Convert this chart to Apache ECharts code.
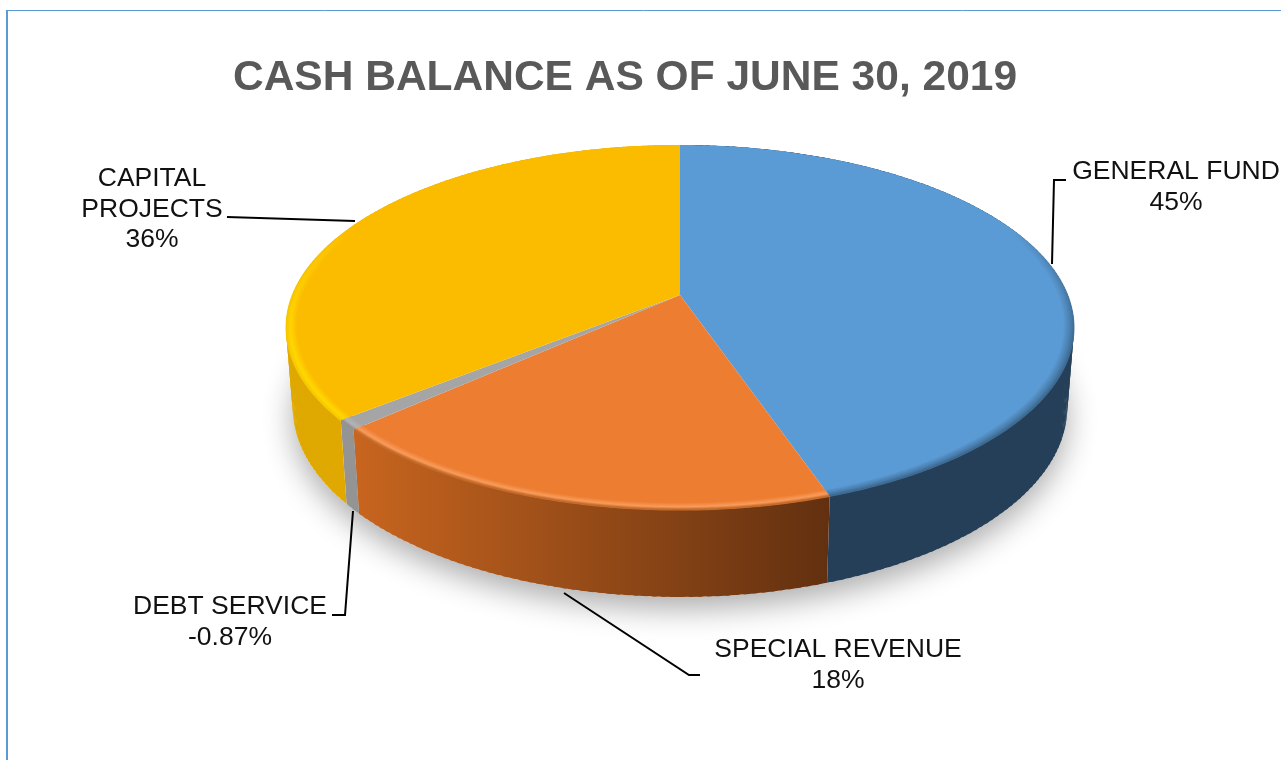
<!DOCTYPE html>
<html>
<head>
<meta charset="utf-8">
<style>
  html,body{margin:0;padding:0;background:#fff;}
  #chart{width:1281px;height:760px;}
</style>
<script src="https://cdn.jsdelivr.net/npm/echarts@6/dist/echarts.min.js"></script>
</head>
<body>
<div id="chart"></div>
<script>
const chartTitle = 'CASH BALANCE AS OF JUNE 30, 2019'
const categories = ['GENERAL FUND', 'SPECIAL REVENUE', 'DEBT SERVICE', 'CAPITAL PROJECTS']
const values = [44.8, 18.49, -0.87, 35.84]
const pctLabels = ['45%', '18%', '-0.87%', '36%']

const topColors = ['#5b9bd5', '#ed7d31', '#a5a5a5', '#fbbc00']
const edgeColors = ['#3d6a92', '#c66a2a', '#929292', '#f7c800']
const glowColors = ['#4a7fae', '#f99c5c', '#b4b4b4', '#ffd800']
const sideColors = [['#243f57', '#243f57'], ['#c8651f', '#623010'], ['#949494', '#949494'], ['#dfa800', '#e6ae00']]

// where each label goes + its leader line
const labelBoxes = [
  { x: 1176, y: 172 },
  { x: 838, y: 650 },
  { x: 230, y: 607 },
  { x: 152, y: 179 }
]
const leaders = [
  [[1066, 180], [1054, 180], [1052, 264]],
  [[700, 675], [689, 675], [564, 593]],
  [[332, 615], [345, 615], [353, 511]],
  [[227, 217], [355, 221]]
]

// perspective disc: apex is not the middle of the ellipse
const apexX = 680, apexY = 295
const scaleX = 387.7, scaleY = 176.7, persp = 0.178

function rimPoint(theta, t) {
  const u = t * Math.sin(theta), v = t * Math.cos(theta)
  const d = 1 + persp * v
  return [apexX + scaleX * u / d, apexY - scaleY * v / d]
}
function lowPoint(theta) {
  const p = rimPoint(theta, 1)
  const v = Math.cos(theta)
  return [apexX + (p[0] - apexX) * 0.983, p[1] + 78 - 9 * v]
}

const total = values.reduce((a, b) => a + Math.abs(b), 0)
const sliceAngles = []
let acc = 0
values.forEach(v => {
  const from = acc / total * Math.PI * 2
  acc += Math.abs(v)
  sliceAngles.push([from, acc / total * Math.PI * 2])
})

function arcPoints(from, to, fn) {
  const n = Math.max(2, Math.ceil((to - from) / 0.01))
  const pts = []
  for (let i = 0; i <= n; i++) pts.push(fn(from + (to - from) * i / n))
  return pts
}
function hexRgb(h) {
  return [parseInt(h.slice(1, 3), 16), parseInt(h.slice(3, 5), 16), parseInt(h.slice(5, 7), 16)]
}
function mix(a, b, p) {
  const x = hexRgb(a), y = hexRgb(b)
  return x.map((c, i) => Math.round(c + (y[i] - c) * p))
}

function renderShadow() {
  const pts = arcPoints(0, Math.PI * 2, th => lowPoint(th))
  return {
    type: 'polygon',
    shape: { points: pts },
    style: { fill: '#ffffff', shadowBlur: 30, shadowColor: 'rgba(0,0,0,0.32)', shadowOffsetY: 12 }
  }
}
function renderSide(params) {
  const i = params.dataIndex
  const [from, to] = sliceAngles[i]
  const up = arcPoints(from, to, th => rimPoint(th, 1))
  const low = arcPoints(from, to, lowPoint)
  const xs = up.map(p => p[0])
  const fill = new echarts.graphic.LinearGradient(Math.min(...xs), 0, Math.max(...xs), 0, [
    { offset: 0, color: sideColors[i][0] },
    { offset: 1, color: sideColors[i][1] }
  ], true)
  // overlapping strips, rim and low edge cross near the left and right ends
  const children = []
  for (let k = 0; k < up.length - 1; k += 2) {
    const e = Math.min(k + 3, up.length - 1)
    children.push({
      type: 'polygon',
      shape: { points: [up[k], up[e], low[e], low[k]] },
      style: { fill }
    })
  }
  return { type: 'group', children }
}
function renderTop(params) {
  const i = params.dataIndex
  const [from, to] = sliceAngles[i]
  const pts = [[apexX, apexY]].concat(arcPoints(from, to, th => rimPoint(th, 1)))
  const children = [{
    type: 'polygon',
    z2: 1,
    shape: { points: pts },
    style: { fill: topColors[i] }
  }]
  // bevel along the rim, only on the near part of the disc
  const rings = 9
  for (let k = 0; k < rings; k++) {
    const p = k / (rings - 1)
    const c = p < 0.35 ? mix(edgeColors[i], glowColors[i], p / 0.35) : mix(glowColors[i], topColors[i], (p - 0.35) / 0.65)
    const t = 0.999 - k * 0.0032
    children.push({
      type: 'polyline',
      z2: 2 + rings - k,
      shape: { points: arcPoints(from, to, th => rimPoint(th, t)) },
      style: {
        fill: null,
        lineWidth: 1.8,
        stroke: new echarts.graphic.LinearGradient(0, 230, 0, 340, [
          { offset: 0, color: `rgba(${c.join(',')},0)` },
          { offset: 1, color: `rgba(${c.join(',')},1)` }
        ], true)
      }
    })
  }
  return { type: 'group', children }
}
function renderLabel(params) {
  const i = params.dataIndex
  const box = labelBoxes[i]
  // CAPITAL PROJECTS wraps onto two lines in the picture
  const lines = categories[i] === 'CAPITAL PROJECTS' ? ['CAPITAL', 'PROJECTS', pctLabels[i]] : [categories[i], pctLabels[i]]
  const children = lines.map((line, n) => ({
    type: 'text',
    style: {
      x: box.x,
      y: box.y + n * 30.5,
      text: line,
      fill: '#111111',
      font: '26.5px "Liberation Sans", Arial, sans-serif',
      textAlign: 'center',
      textVerticalAlign: 'middle'
    }
  }))
  children.push({
    type: 'polyline',
    shape: { points: leaders[i] },
    style: { fill: null, stroke: '#000000', lineWidth: 2 }
  })
  return { type: 'group', children }
}

const chart = echarts.init(document.getElementById('chart'))
const customBase = { type: 'custom', coordinateSystem: 'none', silent: true, clip: false, animation: false }
chart.setOption({
  animation: false,
  backgroundColor: '#ffffff',
  title: {
    text: chartTitle,
    left: 620,
    top: 52,
    textAlign: 'center',
    textStyle: { color: '#595959', fontFamily: '"Liberation Sans", Arial, sans-serif', fontWeight: 'bold', fontSize: 42.5 }
  },
  graphic: [{
    type: 'line',
    silent: true,
    shape: { x1: 7, y1: 10, x2: 7, y2: 760 },
    style: { stroke: '#5b9bd5', lineWidth: 2 }
  }, {
    type: 'line',
    silent: true,
    shape: { x1: 6, y1: 10.5, x2: 1281, y2: 10.5 },
    style: { stroke: '#5b9bd5', lineWidth: 1 }
  }],
  series: [
    { ...customBase, z: 1, data: [values[0]], renderItem: renderShadow },
    { ...customBase, z: 2, data: values, renderItem: renderSide },
    { ...customBase, z: 3, data: values, renderItem: renderTop },
    { ...customBase, z: 4, data: values, renderItem: renderLabel }
  ]
})
</script>
</body>
</html>
